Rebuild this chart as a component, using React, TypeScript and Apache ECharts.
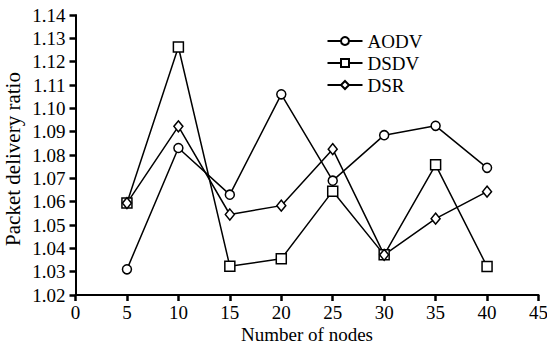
import React, { useEffect, useRef } from "react";
import * as echarts from "echarts";

const nodes = [5, 10, 15, 20, 25, 30, 35, 40];
const aodv = [1.031, 1.083, 1.063, 1.106, 1.069, 1.0885, 1.0925, 1.0745];
const dsdv = [1.0594, 1.1263, 1.0323, 1.0355, 1.0645, 1.0372, 1.0758, 1.0322];
const dsr = [1.0594, 1.0923, 1.0545, 1.0583, 1.0825, 1.0372, 1.0527, 1.0643];
const seriesNames = ["AODV", "DSDV", "DSR"];
const xTitle = "Number of nodes";
const yTitle = "Packet delivery ratio";

const FONT = "'Liberation Serif', 'Times New Roman', serif";

export default function App() {
  const ref = useRef<HTMLDivElement>(null);
  useEffect(() => {
    document.body.style.margin = "0";
    const chart = echarts.init(ref.current!, null, { renderer: "svg" });
    const mk = (name: string, data: number[], symbol: string, size: any) => ({
      name,
      type: "line",
      data: nodes.map((n, i) => [n, data[i]]),
      symbol,
      symbolSize: size,
      showAllSymbol: true,
      lineStyle: { color: "#000", width: 1.5 },
      itemStyle: { color: "#fff", borderColor: "#000", borderWidth: 1.5 },
      emphasis: { disabled: true },
      z: 3,
    });
    chart.setOption({
      animation: false,
      backgroundColor: "#fff",
      textStyle: { fontFamily: FONT },
      grid: {
        left: 75.5,
        right: 8.5,
        top: 15,
        bottom: 51,
        containLabel: false,
        outerBoundsMode: "none",
      },
      legend: {
        orient: "vertical",
        left: 321.5,
        top: 26.5,
        itemWidth: 35,
        itemHeight: 10,
        itemGap: 3,
        textStyle: { fontFamily: FONT, fontSize: 19, color: "#000" },
        data: seriesNames,
      },
      xAxis: {
        type: "value",
        min: 0,
        max: 45,
        interval: 5,
        name: xTitle,
        nameLocation: "middle",
        nameGap: 30,
        nameMoveOverlap: false,
        nameTextStyle: { fontFamily: FONT, fontSize: 19, color: "#000" },
        axisLine: { show: true, lineStyle: { color: "#000", width: 2 } },
        axisTick: { show: true, length: 6, lineStyle: { color: "#000", width: 2.5 } },
        axisLabel: { fontFamily: FONT, fontSize: 19, color: "#000", margin: 8 },
        splitLine: { show: false },
      },
      yAxis: {
        type: "value",
        min: 1.02,
        max: 1.14,
        interval: 0.01,
        name: yTitle,
        nameLocation: "middle",
        nameGap: 52,
        nameMoveOverlap: false,
        nameTextStyle: { fontFamily: FONT, fontSize: 21, color: "#000", padding: [0, 8, 0, 0] },
        axisLine: { show: true, lineStyle: { color: "#000", width: 2 } },
        axisTick: { show: true, length: 6, lineStyle: { color: "#000", width: 2.5 } },
        axisLabel: {
          fontFamily: FONT,
          fontSize: 19,
          color: "#000",
          margin: 10,
          formatter: (v: number) => v.toFixed(2),
        },
        splitLine: { show: false },
      },
      series: [
        mk(seriesNames[0], aodv, "circle", 9),
        mk(seriesNames[1], dsdv, "rect", 10),
        mk(seriesNames[2], dsr, "diamond", [9, 11]),
      ],
    });
    return () => chart.dispose();
  }, []);
  return <div ref={ref} style={{ width: 547, height: 346 }} />;
}
